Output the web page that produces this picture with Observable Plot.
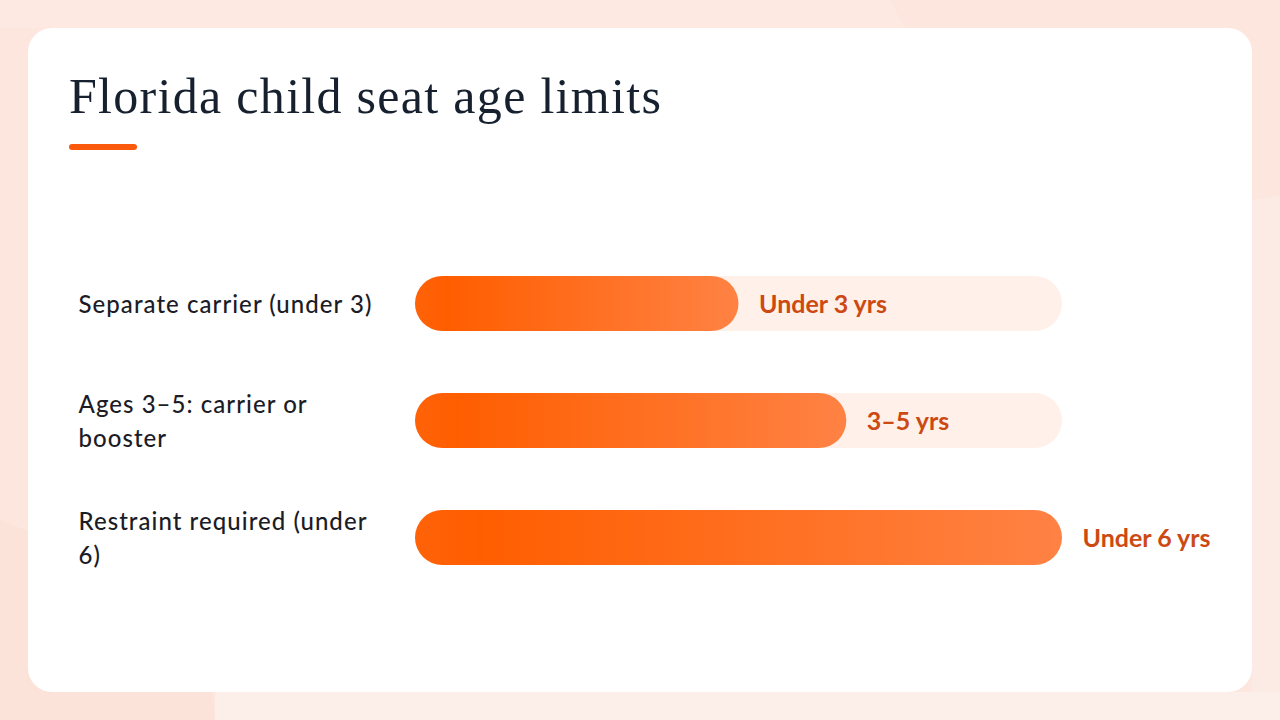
<!DOCTYPE html>
<html>
<head>
<meta charset="utf-8">
<script src="https://cdn.jsdelivr.net/npm/d3@7"></script>
<script src="https://cdn.jsdelivr.net/npm/@observablehq/plot@0.6"></script>
<style>
  html, body { margin: 0; padding: 0; }
  body { width: 1280px; height: 720px; overflow: hidden; position: relative; background: #fce6dd; font-family: Lato, "Noto Sans", sans-serif; }
  .bgshape { position: absolute; }
  #card { position: absolute; left: 28px; top: 28px; width: 1224px; height: 664px; background: #ffffff; border-radius: 24px; }
  #title { position: absolute; left: 69px; top: 67px; margin: 0; font-family: "Liberation Serif", "DejaVu Serif", serif; font-weight: 400; font-size: 50px; color: #16202e; letter-spacing: 1.3px; white-space: nowrap; }
  #rule { position: absolute; left: 69px; top: 144px; width: 68px; height: 6px; border-radius: 3px; background: #fb5a0c; }
  #chart { position: absolute; left: 0; top: 0; }
</style>
</head>
<body>
<svg class="bgshape" width="1280" height="720" style="left:0;top:0">
  <polygon points="0,0 890,0 905,28 0,28" fill="#fde9e1"/>
  <polygon points="1252,200 1280,195 1280,720 1252,720" fill="#fcebe4"/>
  <polygon points="0,520 200,600 215,720 0,720" fill="#fbe3da"/>
  <polygon points="215,692 1280,692 1280,720 215,720" fill="#fcefe9"/>
</svg>
<div id="card"></div>
<h1 id="title">Florida child seat age limits</h1>
<div id="rule"></div>
<div id="chart"></div>
<script>
const categories = ["Separate carrier (under 3)", "Ages 3–5: carrier or booster", "Restraint required (under 6)"];
const tickLabels = ["Separate carrier (under 3)", "Ages 3–5: carrier or\nbooster", "Restraint required (under\n6)"];
const values = [3, 4, 6];
const valueLabels = ["Under 3 yrs", "3–5 yrs", "Under 6 yrs"];
const maxValue = 6;

const rows = categories.map((c, i) => ({category: c, tick: tickLabels[i], value: values[i], label: valueLabels[i], max: maxValue}));

const plot = Plot.plot({
  width: 1280,
  height: 720,
  marginLeft: 415,
  marginRight: 218,
  marginTop: 211.5,
  marginBottom: 91.5,
  style: {background: "transparent", overflow: "visible"},
  x: {domain: [0, maxValue], axis: null},
  y: {domain: categories, padding: 0.534, axis: null},
  marks: [
    Plot.barX(rows, {y: "category", x1: 0, x2: "max", fill: "#fff0ea", rx: 27.5}),
    Plot.barX(rows, {y: "category", x1: 0, x2: "value", fill: "url(#barGrad)", rx: 27.5}),
    Plot.text(rows, {y: "category", text: "tick", frameAnchor: "left", dx: -337, dy: -2, textAnchor: "start", lineHeight: 1.42, fontSize: 24, fontWeight: 500, fill: "#1b1c26", fontFamily: "Lato", className: "ticklab"}),
    Plot.text(rows, {y: "category", x: "value", text: "label", dx: 20, dy: 1, textAnchor: "start", fontSize: 25, fontWeight: 700, fill: "#cc4a12", fontFamily: "Lato", className: "vallab"})
  ]
});

const defs = d3.select(plot).insert("defs", ":first-child");
const g = defs.append("linearGradient").attr("id", "barGrad").attr("x1", "0").attr("x2", "1").attr("y1", "0").attr("y2", "0");
g.append("stop").attr("offset", "0%").attr("stop-color", "#ff6208");
g.append("stop").attr("offset", "10%").attr("stop-color", "#ff5e00");
g.append("stop").attr("offset", "100%").attr("stop-color", "#ff8244");

d3.select(plot).selectAll(".ticklab text").style("letter-spacing", "1.05px");
document.getElementById("chart").appendChild(plot);
</script>
</body>
</html>
